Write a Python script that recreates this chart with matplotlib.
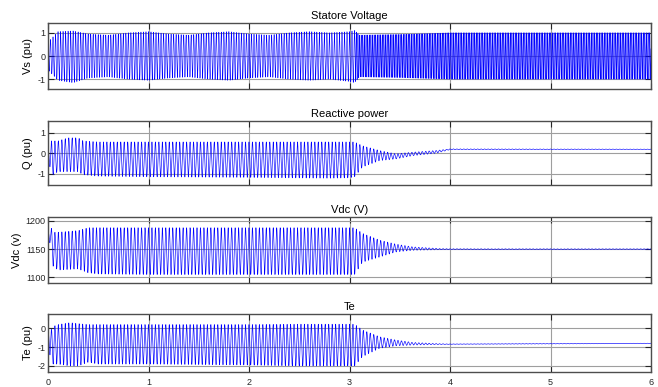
import numpy as np
import matplotlib
matplotlib.use("Agg")
import matplotlib.pyplot as plt

plt.rcParams['font.family'] = ['Liberation Sans', 'DejaVu Sans']

# ---------------- data ----------------
titles = ["Statore Voltage", "Reactive power", "Vdc (V)", "Te"]
ylabels = ["Vs (pu)", "Q (pu)", "Vdc (v)", "Te (pu)"]
xticks = [0, 1, 2, 3, 4, 5, 6]

# Stator voltage envelope (upper / lower) at time knots
vs_t     = [0.0, 0.1, 0.25, 0.4, 0.6, 0.8, 1.0, 1.2, 1.4, 1.6, 1.8, 2.0, 2.2, 2.4, 2.6, 2.8, 3.0, 3.05, 3.1, 3.5, 4.0, 6.0]
vs_upper = [0.6, 1.05, 1.08, 0.95, 0.9, 1.0, 1.05, 0.95, 0.9, 1.0, 1.05, 0.95, 0.9, 1.0, 1.05, 1.0, 1.05, 1.1, 0.9, 0.93, 1.0, 1.0]
vs_lower = [-0.6, -1.05, -1.15, -0.95, -0.9, -1.0, -1.05, -0.95, -0.9, -1.0, -1.05, -0.95, -0.9, -1.0, -1.05, -1.0, -1.1, -1.15, -0.9, -0.93, -1.0, -1.0]
vs_freq_t = [0.0, 3.05, 3.06, 6.0]
vs_freq   = [40.0, 40.0, 62.0, 62.0]

# Reactive power envelope
q_t     = [0.0, 0.03, 0.1, 0.2, 0.3, 0.35, 0.5, 1.0, 2.0, 2.8, 3.0, 3.05, 3.13, 3.3, 3.46, 3.63, 3.86, 4.0, 6.0]
q_upper = [0.0, 0.6, 0.6, 0.75, 0.75, 0.6, 0.55, 0.55, 0.55, 0.55, 0.55, 0.55, 0.36, 0.13, -0.03, 0.05, 0.13, 0.21, 0.2]
q_lower = [0.0, -1.1, -0.9, -0.9, -0.9, -1.05, -1.12, -1.15, -1.18, -1.22, -1.2, -1.15, -0.67, -0.36, -0.28, -0.12, 0.0, 0.17, 0.18]

# DC-link voltage envelope
vdc_t     = [0.0, 0.02, 0.05, 0.1, 0.3, 0.4, 0.5, 1.0, 2.0, 3.0, 3.05, 3.13, 3.3, 3.46, 3.63, 3.9, 4.0, 6.0]
vdc_upper = [1180, 1193, 1180, 1180, 1183, 1188, 1188, 1188, 1188, 1188, 1188, 1178, 1166, 1159, 1154, 1151, 1150.6, 1150.5]
vdc_lower = [1170, 1160, 1120, 1113, 1115, 1108, 1106, 1105, 1105, 1105, 1105, 1127, 1136, 1145, 1148, 1149, 1149.4, 1149.5]

# Electromagnetic torque envelope
te_t     = [0.0, 0.02, 0.05, 0.1, 0.22, 0.3, 0.4, 0.5, 1.0, 2.0, 2.5, 3.0, 3.05, 3.13, 3.3, 3.46, 3.63, 3.9, 4.0, 6.0]
te_upper = [0.0, -0.2, 0.1, 0.2, 0.3, 0.25, 0.2, 0.2, 0.2, 0.2, 0.22, 0.22, 0.22, -0.09, -0.45, -0.62, -0.75, -0.82, -0.83, -0.79]
te_lower = [-0.5, -1.5, -1.9, -1.9, -2.0, -2.0, -1.8, -1.9, -1.9, -1.95, -2.0, -2.0, -2.0, -1.5, -1.06, -0.93, -0.89, -0.86, -0.85, -0.81]
osc_freq = 29.0  # visible oscillation cycles per second (Q, Vdc, Te)

ylims = [(-1.42, 1.42), (-1.55, 1.57), (1090, 1207), (-2.32, 0.76)]
yticks = [[-1, 0, 1], [-1, 0, 1], [1100, 1150, 1200], [-2, -1, 0]]
ytick_labels = [["-1", "0", "1"], ["-1", "0", "1"], ["1100", "1150", "1200"], ["-2", "-1", "0"]]

# ---------------- build traces ----------------
t = np.linspace(0, 6, 30000)
dt = t[1] - t[0]

def trace(kt, up, lo, freq):
    u = np.interp(t, kt, up)
    l = np.interp(t, kt, lo)
    ph = 2 * np.pi * np.cumsum(freq) * dt
    return 0.5 * (u + l) + 0.5 * (u - l) * np.cos(ph)

f_vs = np.interp(t, vs_freq_t, vs_freq)
f_const = np.full_like(t, osc_freq)
signals = [
    trace(vs_t, vs_upper, vs_lower, f_vs),
    trace(q_t, q_upper, q_lower, f_const),
    trace(vdc_t, vdc_upper, vdc_lower, f_const),
    trace(te_t, te_upper, te_lower, f_const),
]
line_widths = [0.4, 0.45, 0.45, 0.45]

# ---------------- figure ----------------
fig = plt.figure(figsize=(6.58, 3.87), dpi=100)
W, H = 658, 387
left, right = 48, 651
boxes = [(23, 89), (121, 185), (217, 283), (314, 372)]

for i, (top, bot) in enumerate(boxes):
    ax = fig.add_axes([left / W, 1 - bot / H, (right - left) / W, (bot - top) / H])
    ax.plot(t, signals[i], color=(0, 0, 1), lw=line_widths[i])
    ax.set_xlim(0, 6)
    ax.set_ylim(*ylims[i])
    ax.set_xticks(xticks)
    ax.set_yticks(yticks[i])
    ax.set_yticklabels(ytick_labels[i])
    if i == 3:
        ax.set_xticklabels([str(x) for x in xticks])
    else:
        ax.set_xticklabels([])
    ax.grid(True, color=(0.62, 0.62, 0.62), lw=0.8)
    ax.set_axisbelow(True)
    ax.tick_params(direction='in', length=4, width=0.8, colors=(0.15, 0.15, 0.15),
                   labelsize=6.5, top=True, right=True, pad=2)
    ax.tick_params(axis='x', pad=4)
    for s in ax.spines.values():
        s.set_color((0.3, 0.3, 0.3))
        s.set_linewidth(1.0)
    ax.set_title(titles[i], fontsize=8, pad=3, color='black')
    ax.set_ylabel(ylabels[i], fontsize=8, labelpad=3 if i != 2 else 2)

fig.savefig("out.png", dpi=100)
